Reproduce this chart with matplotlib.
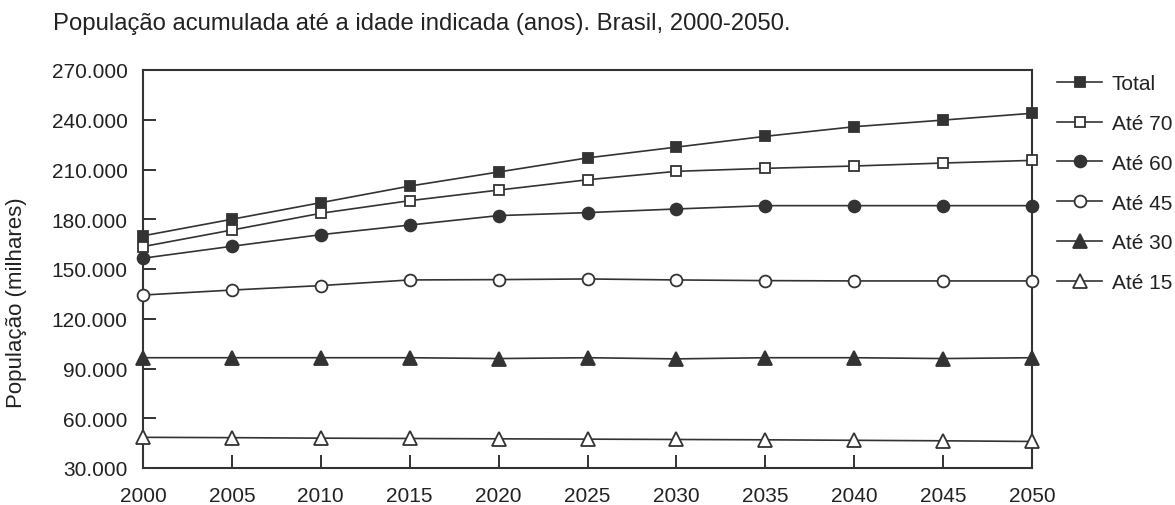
import matplotlib
matplotlib.use("Agg")
import matplotlib.pyplot as plt
from matplotlib.ticker import FuncFormatter

plt.rcParams['font.family'] = ['Liberation Sans', 'DejaVu Sans']

anos = [2000, 2005, 2010, 2015, 2020, 2025, 2030, 2035, 2040, 2045, 2050]
total = [170000, 180000, 190000, 200000, 208500, 217000, 223500, 230000, 235800, 239800, 243900]
ate70 = [163500, 173500, 183600, 191200, 197600, 203800, 208900, 210700, 212100, 213900, 215500]
ate60 = [156500, 163700, 170700, 176500, 182200, 184000, 186200, 188200, 188200, 188200, 188200]
ate45 = [134300, 137300, 140000, 143400, 143600, 144000, 143400, 143000, 142800, 142800, 142800]
ate30 = [96500, 96500, 96500, 96500, 96000, 96500, 95800, 96500, 96500, 96000, 96500]
ate15 = [48500, 48300, 48000, 47800, 47600, 47400, 47200, 47000, 46700, 46400, 46000]

series = [
    ('Total', total, 's', '#333333'),
    ('Até 70', ate70, 's', 'white'),
    ('Até 60', ate60, 'o', '#333333'),
    ('Até 45', ate45, 'o', 'white'),
    ('Até 30', ate30, '^', '#333333'),
    ('Até 15', ate15, '^', 'white'),
]
msize = {'s': 7, 'o': 8.5, '^': 9.5}

W, H = 1175, 506
fig = plt.figure(figsize=(W / 100, H / 100), dpi=100)
ax = fig.add_axes([143 / W, 1 - 469 / H, (1032 - 143) / W, (469 - 71) / H])

line_col = '#333333'
txt_col = '#222222'
for name, vals, mk, fc in series:
    ax.plot(anos, vals, color=line_col, lw=1.2, marker=mk, markersize=msize[mk],
            markerfacecolor=fc, markeredgecolor=line_col, markeredgewidth=1.3,
            label=name, clip_on=False, zorder=3)

ax.set_xlim(2000, 2050)
ax.set_ylim(30000, 270000)
ax.set_xticks(anos)
ax.set_yticks(range(30000, 270001, 30000))
ax.yaxis.set_major_formatter(FuncFormatter(lambda v, p: f"{int(v):,}".replace(',', '.')))
ax.tick_params(direction='in', length=9.5, width=1.4, color=line_col,
               labelsize=15, labelcolor=txt_col)
ax.tick_params(axis='y', pad=11)
ax.tick_params(axis='x', pad=13)
for s in ax.spines.values():
    s.set_color(line_col)
    s.set_linewidth(1.5)

ax.set_ylabel('População (milhares)', fontsize=16, color=txt_col)
ax.yaxis.set_label_coords(-0.131, 0.418)

fig.text(53 / W, 1 - 24 / H, 'População acumulada até a idade indicada (anos). Brasil, 2000-2050.',
         fontsize=17.2, color=txt_col, va='center', ha='left')

fig.legend(loc='upper left', bbox_to_anchor=(1057 / W, 1 - 75 / H), frameon=False,
           fontsize=15, handlelength=2.16, labelspacing=1.0, handletextpad=0.48,
           borderpad=0, borderaxespad=0, labelcolor=txt_col)

fig.savefig('out.png', dpi=100)
